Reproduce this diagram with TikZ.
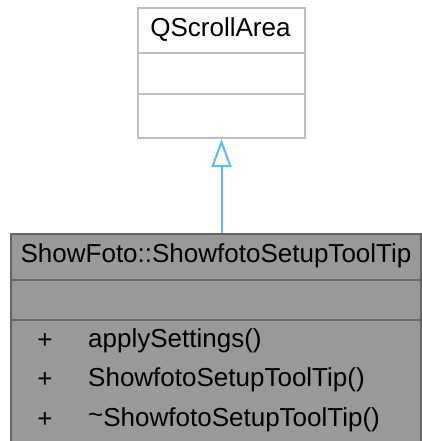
\documentclass[tikz,border=0pt]{standalone}
\usepackage{fontspec}
\setmainfont{Liberation Sans}
\usetikzlibrary{arrows.meta, positioning}

\definecolor{edgeblue}{HTML}{63B8FF}
\definecolor{boxgray}{HTML}{BFBFBF}
\definecolor{derivfill}{HTML}{999999}
\definecolor{derivline}{HTML}{666666}

\tikzset{
    umlbox/.style={draw=boxgray, fill=white, line width=2pt,
        inner sep=0pt, anchor=north west},
    derivbox/.style={umlbox, draw=derivline, fill=derivfill},
    umltext/.style={font=\fontsize{26}{30}\selectfont, inner sep=0pt},
    inherit/.style={draw=edgeblue, line width=2pt,
        -{Triangle[open, length=28pt, width=20pt]}}
}

\begin{document}
\begin{tikzpicture}[x=1pt, y=-1pt]
    \useasboundingbox (0,0) rectangle (421,441);

    % base class
    \node[umlbox, minimum width=167pt, minimum height=130pt] (base) at (137,7) {};
    \draw[boxgray, line width=2pt] (137,53) -- (304,53);
    \draw[boxgray, line width=2pt] (137,94) -- (304,94);
    \node[umltext] (basename) at (220.5,30) {QScrollArea};

    % derived class
    \node[derivbox, minimum width=410pt, minimum height=212pt] (derived) at (10,233) {};
    \draw[derivline, line width=2pt] (10,280) -- (420,280);
    \draw[derivline, line width=2pt] (10,320) -- (420,320);
    \node[umltext] (derivname) at (216,256) {ShowFoto::ShowfotoSetupToolTip};

    % members
    \node[umltext] (plusa) at (45,341) {+};
    \node[umltext, anchor=west] (mema) at (88,341) {applySettings()};
    \node[umltext] (plusb) at (45,380) {+};
    \node[umltext, anchor=west] (memb) at (88,380) {ShowfotoSetupToolTip()};
    \node[umltext] (plusc) at (45,420) {+};
    \node[umltext, anchor=west] (memc) at (88,420) {\raisebox{0.25ex}{\textasciitilde}ShowfotoSetupToolTip()};

    % inheritance
    \draw[inherit] (derived.north -| base.south) -- (base.south);
\end{tikzpicture}
\end{document}
